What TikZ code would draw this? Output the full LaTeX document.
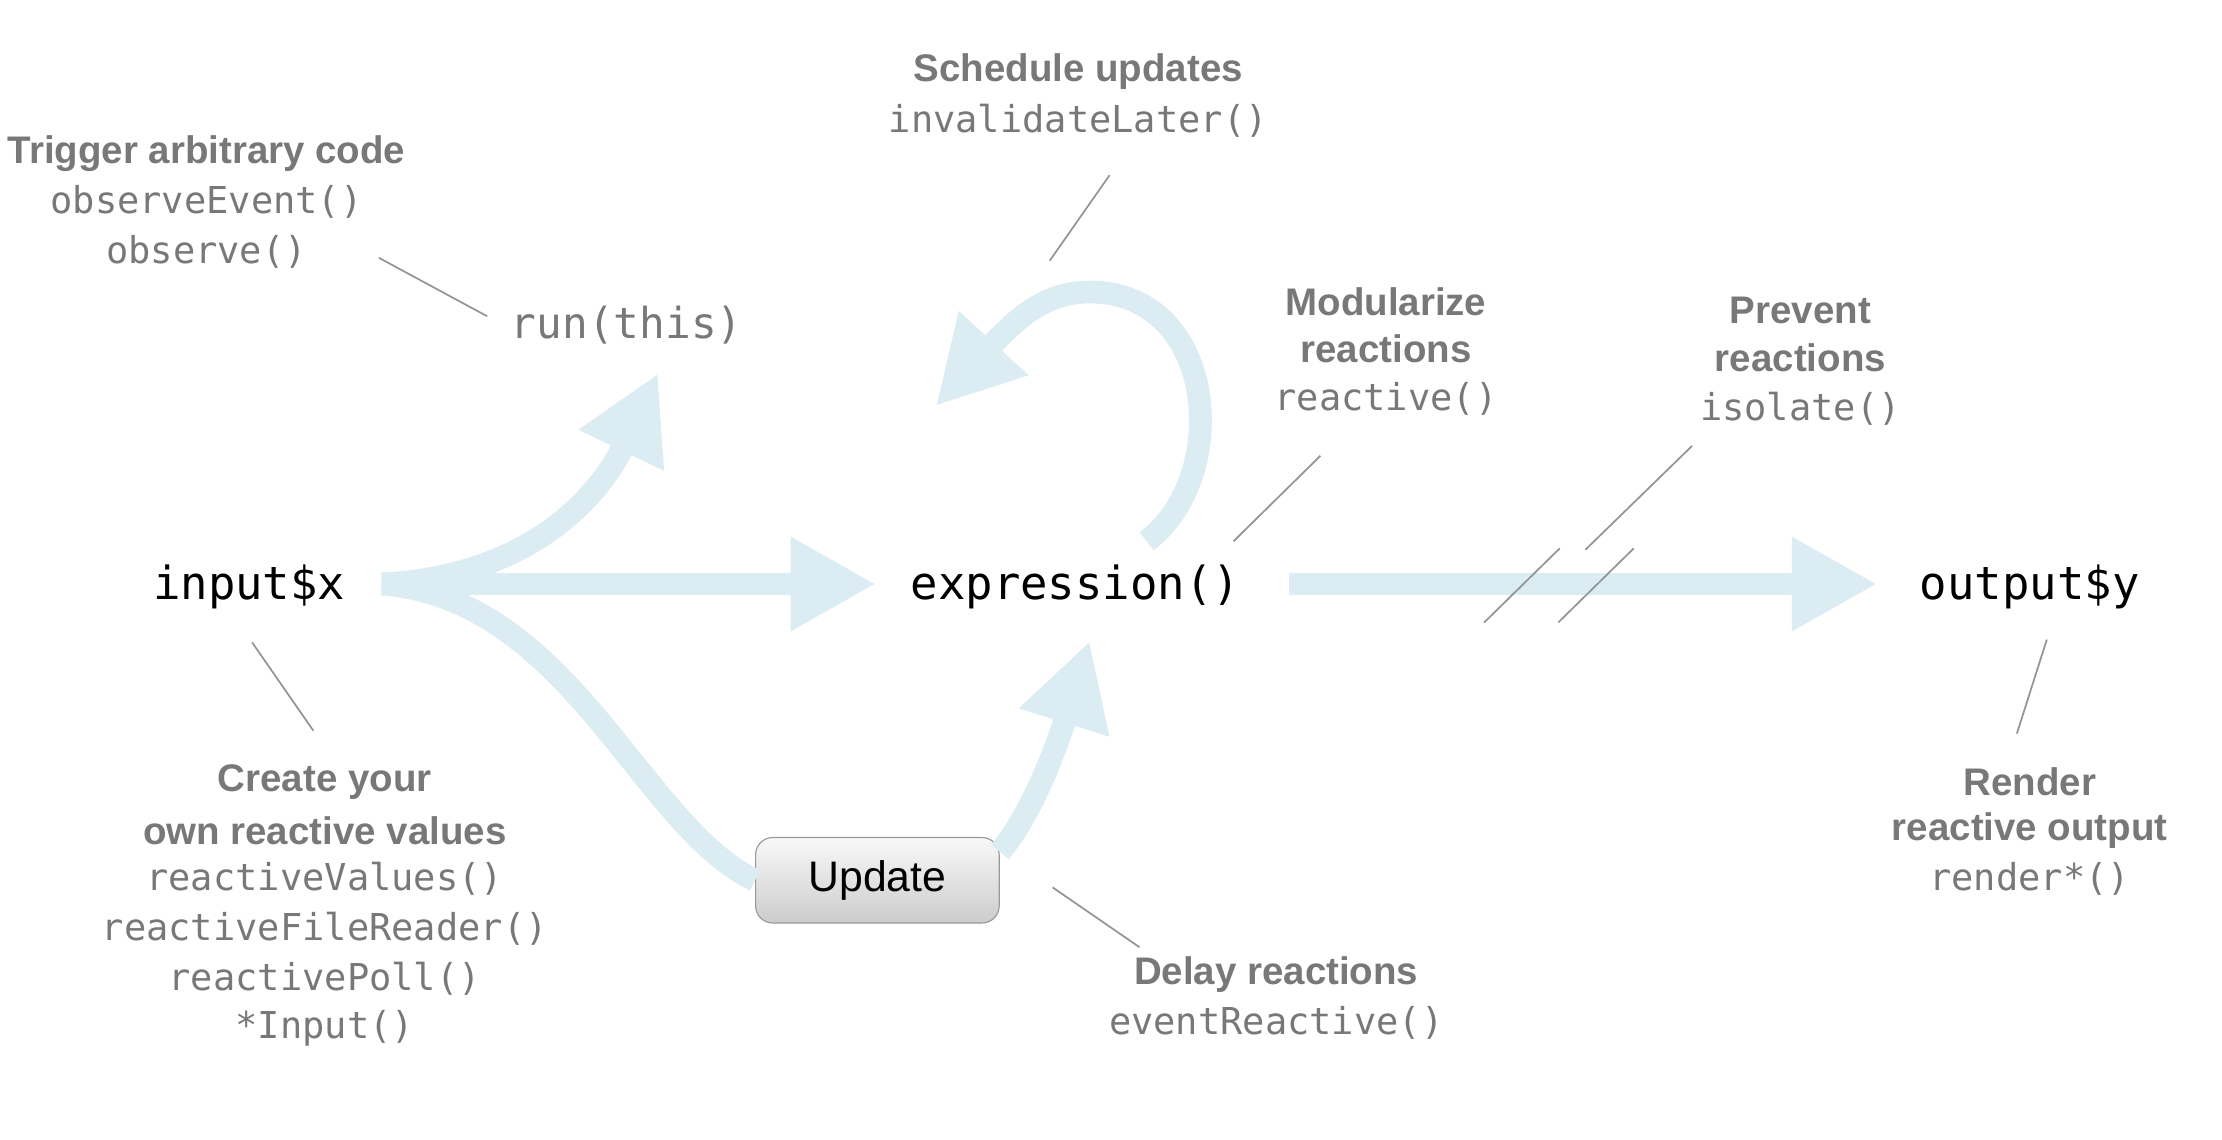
\documentclass[tikz,border=0pt]{standalone}
\usepackage{fontspec}
\setsansfont{Liberation Sans}
\setmonofont{DejaVu Sans Mono}
\usetikzlibrary{arrows.meta}
\definecolor{flow}{RGB}{220,236,243}
\definecolor{lab}{RGB}{120,120,120}
\tikzset{
  x=0.5pt,y=-0.5pt,
  flowline/.style={draw=flow,line width=8pt,-{Triangle[length=30pt,width=31pt]}},
  flowplain/.style={draw=flow,line width=8pt},
  main/.style={font=\fontsize{16}{18}\selectfont\ttfamily,text=black},
  head/.style={font=\fontsize{13.5}{15}\selectfont\sffamily\bfseries,text=lab,align=center},
  code/.style={font=\fontsize{13}{15}\selectfont\ttfamily,text=lab,align=center},
  leader/.style={draw=lab!80,line width=0.6pt},
}
\begin{document}
\begin{tikzpicture}
\useasboundingbox (0,0) rectangle (1560,800);
\node[main] (input) at (175,412) {input\$x};
\node[main] (expr) at (755,412) {expression()};
\node[main] (output) at (1425,412) {output\$y};
\node[code,font=\fontsize{15}{17}\selectfont\ttfamily] (run) at (440,228) {run(this)};
\node[draw=gray!80,rounded corners=6pt,minimum width=85.5pt,minimum height=30pt,
  top color=gray!5,bottom color=gray!40,font=\fontsize{15}{17}\selectfont\sffamily] (update) at (616,618) {Update};
\coordinate (src) at (268,410);
% arrows
\draw[flowline] (src) -- (615,410);
\draw[flowline] (src) .. controls (370,405) and (420,350) .. (462,262);
\draw[flowplain] (src) .. controls (400,420) and (450,580) .. (update.west);
\draw[flowline] (702,598) .. controls (722,575) and (740,530) .. (765,450);
\draw[flowline] (805,380) .. controls (865,335) and (855,205) .. (765,205) .. controls (735,205) and (715,222) .. (657,285);
\draw[flowline] (905,410) -- (1318,410);
% break marks
\draw[leader] (1042,437) -- (1095,385);
\draw[leader] (1094,437) -- (1147,385);
% leaders
\draw[leader] (266,181) -- (342,222);
\draw[leader] (737,183) -- (779,123);
\draw[leader] (866,380) -- (927,320);
\draw[leader] (1113,386) -- (1188,313);
\draw[leader] (177,451) -- (220,513);
\draw[leader] (739,623) -- (800,665);
\draw[leader] (1437,449) -- (1416,515);
% labels
\node[head] (l1) at (757,50) {Schedule updates};
\node[code] (l1c) at (757,85) {invalidateLater()};
\node[head] (l2) at (145,108) {Trigger arbitrary code};
\node[code] (l2c) at (145,142) {observeEvent()};
\node[code] (l2d) at (145,177) {observe()};
\node[head] (l3) at (973,212) {Modularize};
\node[head] (l3b) at (973,245) {reactions};
\node[code] (l3c) at (973,280) {reactive()};
\node[head] (l4) at (1264,218) {Prevent};
\node[head] (l4b) at (1264,251) {reactions};
\node[code] (l4c) at (1264,287) {isolate()};
\node[head] (l5) at (228,549) {Create your};
\node[head] (l5b) at (228,583) {own reactive values};
\node[code] (l5c) at (228,617) {reactiveValues()};
\node[code] (l5d) at (228,652) {reactiveFileReader()};
\node[code] (l5e) at (228,687) {reactivePoll()};
\node[code] (l5f) at (228,722) {*Input()};
\node[head] (l6) at (1425,549) {Render};
\node[head] (l6b) at (1425,583) {reactive output};
\node[code] (l6c) at (1425,617) {render*()};
\node[head] (l7) at (896,684) {Delay reactions};
\node[code] (l7c) at (896,718) {eventReactive()};
\end{tikzpicture}
\end{document}
